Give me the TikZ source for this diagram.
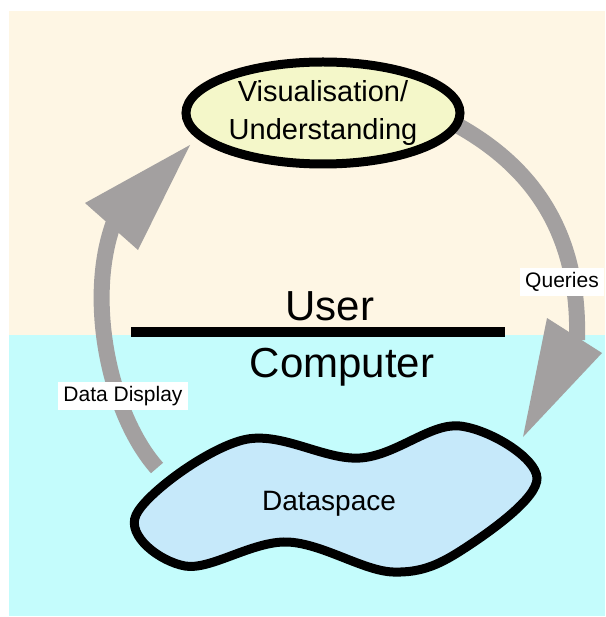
\documentclass[tikz,border=0pt]{standalone}
\usepackage{fontspec}
\setmainfont{Liberation Sans}
\usetikzlibrary{shapes.geometric}
\definecolor{cream}{HTML}{FEF6E4}
\definecolor{aqua}{HTML}{C4FCFC}
\definecolor{ellfill}{HTML}{F4F7C9}
\definecolor{blobfill}{HTML}{C6E9FA}
\definecolor{flow}{HTML}{A3A0A0}
\tikzset{
  shaft/.style={draw=flow, line width=16pt},
  head/.style={fill=flow, draw=none},
  tag/.style={fill=white, inner xsep=5pt, inner ysep=4pt, font=\fontsize{21}{24}\selectfont},
  outline/.style={draw=black, line width=9pt},
}
\begin{document}
\begin{tikzpicture}[x=1pt, y=-1pt]
\useasboundingbox (0,0) rectangle (605,617);
% backgrounds: user side above, computer side below
\fill[white] (0,0) rectangle (605,617);
\fill[cream] (9,11) rectangle (605,335);
\fill[aqua] (9,335) rectangle (605,616);

% dividing bar
\fill[black] (131,327) rectangle (505,337);

% key points of the loop
\coordinate (qs) at (455,124);
\coordinate (qe) at (577,340);
\coordinate (qh1) at (547,318);
\coordinate (qh2) at (602,353);
\coordinate (qt) at (523,437);
\coordinate (ds) at (157,468);
\coordinate (de) at (114,222);
\coordinate (dh1) at (85,203);
\coordinate (dh2) at (138,250);
\coordinate (dt) at (190,145);

% queries arrow
\draw[shaft] (qs) .. controls (530,165) and (580,230) .. (qe);
\fill[head] (qh1) -- (qh2) -- (qt) -- cycle;
% data display arrow
\draw[shaft] (ds) .. controls (110,415) and (85,300) .. (de);
\fill[head] (dh1) -- (dh2) -- (dt) -- cycle;

% dataspace blob
\draw[outline, fill=blobfill] plot[smooth cycle, tension=0.6] coordinates {
  (136,515) (243,440) (360,458) (460,426) (537,478)
  (465,548) (393,572) (287,542) (185,566)};
\node[font=\fontsize{28}{32}\selectfont, anchor=base] (data) at (329,510) {Dataspace};

% visualisation ellipse
\node[ellipse, outline, fill=ellfill, inner sep=0pt,
      minimum width=274pt, minimum height=102pt, align=center,
      font=\fontsize{29}{38}\selectfont] (vis) at (323,113)
      {Visualisation/\\Understanding};

% side labels
\node[font=\fontsize{42}{46}\selectfont, anchor=base] (user) at (330,320) {User};
\node[font=\fontsize{42}{46}\selectfont, anchor=base] (comp) at (342,377) {Computer};
\node[tag] (queries) at (562,282) {Queries};
\node[tag] (display) at (123,396) {Data Display};
\end{tikzpicture}
\end{document}
